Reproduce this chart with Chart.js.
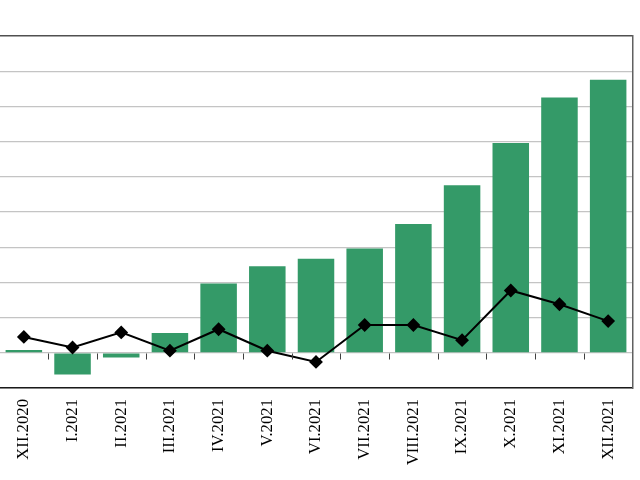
<!DOCTYPE html>
<html>
<head>
<meta charset="utf-8">
<script src="https://cdn.jsdelivr.net/npm/chart.js@4"></script>
<style>
  html, body { margin: 0; padding: 0; width: 640px; height: 480px; overflow: hidden; background: #fff; }
  #wrap { position: absolute; left: -8px; top: 0; width: 648px; height: 480px; }
</style>
</head>
<body>
<div id="wrap"><canvas id="c" width="648" height="480"></canvas></div>
<script>
const categories = ["XII.2020","I.2021","II.2021","III.2021","IV.2021","V.2021","VI.2021","VII.2021","VIII.2021","IX.2021","X.2021","XI.2021","XII.2021"];
const barValues = [0.08, -0.62, -0.13, 0.56, 1.97, 2.46, 2.67, 2.96, 3.66, 4.76, 5.96, 7.25, 7.76];
const lineValues = [0.45, 0.15, 0.58, 0.06, 0.67, 0.06, -0.26, 0.79, 0.79, 0.36, 1.77, 1.38, 0.9];
const yMin = -1, yMax = 9, yStep = 1;

const zeroTicks = {
  id: 'zeroTicks',
  afterDatasetsDraw(chart) {
    const x = chart.scales.x, y = chart.scales.y;
    const ctx = chart.ctx;
    const zy = Math.round(y.getPixelForValue(0)) + 0.5;
    ctx.save();
    ctx.strokeStyle = '#404040';
    ctx.lineWidth = 1;
    for (let k = 1; k < categories.length; k++) {
      const px = Math.round((x.getPixelForValue(k - 1) + x.getPixelForValue(k)) / 2) + 0.5;
      ctx.beginPath();
      ctx.moveTo(px, zy);
      ctx.lineTo(px, zy + 6);
      ctx.stroke();
    }
    ctx.restore();
  }
};

new Chart(document.getElementById('c'), {
  data: {
    labels: categories,
    datasets: [
      {
        type: 'line',
        data: lineValues,
        borderColor: '#000000',
        borderWidth: 2,
        pointStyle: 'rectRot',
        pointRadius: 5.5,
        pointBackgroundColor: '#000000',
        pointBorderColor: '#000000',
        tension: 0,
        order: 0
      },
      {
        type: 'bar',
        data: barValues,
        backgroundColor: '#349a68',
        categoryPercentage: 1,
        barPercentage: 0.75,
        order: 1
      }
    ]
  },
  options: {
    responsive: false,
    animation: false,
    layout: { padding: { top: 36, right: 6, left: 0, bottom: 0 } },
    plugins: { legend: { display: false }, tooltip: { enabled: false } },
    scales: {
      x: {
        grid: { display: false, drawTicks: false },
        border: { display: true, color: '#1a1a1a', width: 1.5 },
        ticks: {
          maxRotation: 90, minRotation: 90, padding: 11, autoSkip: false,
          color: '#000000',
          font: { family: 'Liberation Serif', size: 16.7 }
        },
        afterFit(s) { s.height = 92; }
      },
      y: {
        min: yMin, max: yMax,
        ticks: { display: false, stepSize: yStep },
        grid: {
          drawTicks: false,
          color: (c) => (c.tick && c.tick.value === yMax) ? '#505050' : '#c4c4c4',
          lineWidth: (c) => (c.tick && c.tick.value === yMax) ? 1.5 : 1.2
        },
        border: { display: false },
        afterFit(s) { s.width = 0; }
      },
      y2: {
        position: 'right',
        min: yMin, max: yMax,
        ticks: { display: false },
        grid: { display: false, drawTicks: false },
        border: { display: true, color: '#606060', width: 1.5 },
        afterFit(s) { s.width = 0; }
      }
    }
  },
  plugins: [zeroTicks]
});
</script>
</body>
</html>
